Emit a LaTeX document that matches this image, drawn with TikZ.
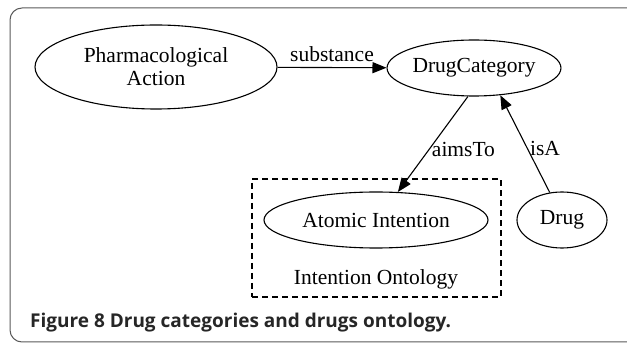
\documentclass[tikz,border=0pt]{standalone}
\usepackage{fontspec}
\setmainfont{Liberation Serif}
\newfontfamily\capfont{Open Sans}
\usetikzlibrary{shapes.geometric,arrows.meta}

\tikzstyle{concept} = [ellipse,draw,line width=1.1pt,inner sep=0pt,font=\fontsize{21.5}{23}\selectfont,align=center]
\tikzstyle{rel} = [-{Triangle[length=14pt,width=11pt]},line width=1.1pt]
\tikzstyle{lbl} = [font=\fontsize{21.5}{23}\selectfont,inner sep=2pt]

\begin{document}
\begin{tikzpicture}[x=1pt,y=-1pt]
	\useasboundingbox (0,0) rectangle (627,344);
	\draw[gray!70!black,line width=1pt,rounded corners=12pt] (640,8) -- (10,8) -- (10,342) -- (640,342);
	\node[concept,minimum width=242pt,minimum height=84pt] (pa) at (156,67) {Pharmacological\\Action};
	\node[concept,minimum width=160pt,minimum height=56pt] (dc) at (474,68) {DrugCategory};
	\node[concept,minimum width=224pt,minimum height=56pt] (ai) at (376,220) {Atomic Intention};
	\node[concept,minimum width=90pt,minimum height=56pt] (drug) at (562,220) {Drug};
	\node[draw,line width=1.1pt,dash pattern=on 6pt off 4pt,minimum width=249pt,minimum height=118pt] (onto) at (376.5,238) {};
	\node[lbl] (ontolbl) at (376,279) {Intention Ontology};
	\draw[rel] (pa) -- node[lbl,above,yshift=3pt]{substance}(dc);
	\draw[rel] (dc.258) -- node[lbl,right,pos=0.55]{aimsTo}(ai.52);
	\draw[rel] (drug.114) -- node[lbl,right,pos=0.45]{isA}(dc.314);
	\node[anchor=base west,inner sep=0pt,font=\capfont\bfseries\fontsize{19}{22}\selectfont,text=black!85] (cap) at (30,328) {Figure 8 Drug categories and drugs ontology.};
\end{tikzpicture}
\end{document}
